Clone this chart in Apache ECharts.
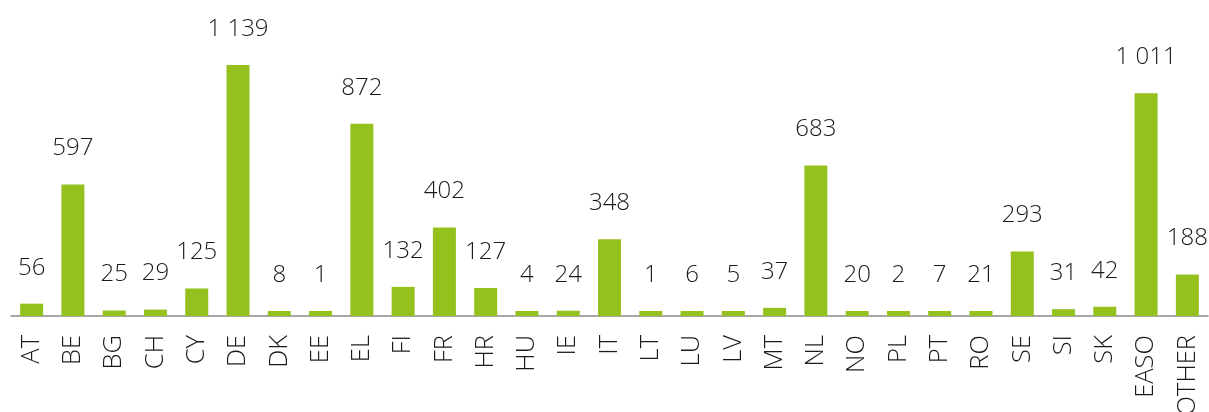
<!DOCTYPE html>
<html>
<head>
<meta charset="utf-8">
<script src="https://cdn.jsdelivr.net/npm/echarts@6/dist/echarts.min.js"></script>
<style>html,body{margin:0;padding:0;background:#fff}#c{width:1209px;height:412px}</style>
</head>
<body>
<div id="c"></div>
<script>
const categories = ["AT","BE","BG","CH","CY","DE","DK","EE","EL","FI","FR","HR","HU","IE","IT","LT","LU","LV","MT","NL","NO","PL","PT","RO","SE","SI","SK","EASO","OTHER"];
const values = [56,597,25,29,125,1139,8,1,872,132,402,127,4,24,348,1,6,5,37,683,20,2,7,21,293,31,42,1011,188];

function fmt(v){ return String(v).replace(/\B(?=(\d{3})+(?!\d))/g, ' '); }

const chart = echarts.init(document.getElementById('c'), null, {renderer:'canvas'});
chart.setOption({
  animation:false,
  grid:{left:11, right:1, top:7.5, bottom:96, containLabel:false, outerBoundsMode:'none'},
  xAxis:{
    type:'category', data:categories,
    axisLine:{lineStyle:{color:'#8a8a8a', width:1.5}},
    axisTick:{show:false},
    axisLabel:{rotate:90, margin:19, fontSize:25.5, color:'#1a1a1a', fontFamily:'Open Sans', fontWeight:300, interval:0}
  },
  yAxis:{type:'value', min:0, max:1400, show:false, splitLine:{show:false}},
  series:[{
    type:'bar', data:values, barWidth:23, barMinHeight:5,
    itemStyle:{color:'#95C11F'},
    label:{show:true, position:'top', distance:24, fontSize:24, color:'#1a1a1a', fontFamily:'Open Sans', fontWeight:300,
      formatter:p=>fmt(p.value)}
  }]
});
</script>
</body>
</html>
